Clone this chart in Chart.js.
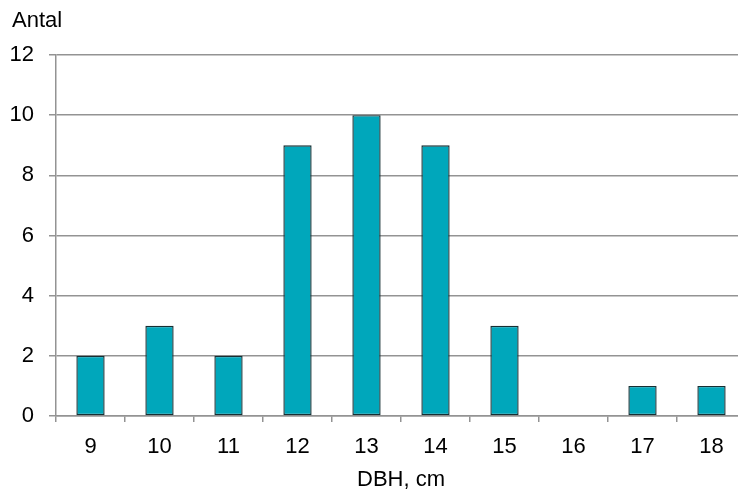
<!DOCTYPE html>
<html>
<head>
<meta charset="utf-8">
<script src="https://cdn.jsdelivr.net/npm/chart.js@4/dist/chart.umd.min.js"></script>
<style>
  html, body { margin: 0; padding: 0; background: #fff; overflow: hidden; }
  #wrap { width: 746px; height: 490px; }
</style>
</head>
<body>
<div id="wrap"><canvas id="c" width="746" height="490"></canvas></div>
<script>
// Diameter classes (DBH, cm) and number of trees in each class
const diameterClasses = ['9', '10', '11', '12', '13', '14', '15', '16', '17', '18'];
const treeCounts = [2, 3, 2, 9, 10, 9, 3, 0, 1, 1];
const yTicks = [0, 2, 4, 6, 8, 10, 12];

const FONT = { family: '"Liberation Sans", Arial, sans-serif', size: 22 };
const GRID = '#939393';

// Writes the y-axis caption above the value scale
const captionPlugin = {
  id: 'caption',
  afterDraw(chart) {
    const ctx = chart.ctx;
    ctx.save();
    ctx.font = `${FONT.size}px ${FONT.family}`;
    ctx.fillStyle = '#000';
    ctx.textAlign = 'left';
    ctx.textBaseline = 'middle';
    ctx.fillText('Antal', 12, 21);
    ctx.restore();
  }
};

new Chart(document.getElementById('c'), {
  type: 'bar',
  data: {
    labels: diameterClasses,
    datasets: [{
      data: treeCounts,
      backgroundColor: '#00A7BB',
      borderColor: '#162f33',
      borderWidth: 1.4,
      borderSkipped: false,
      barPercentage: 0.41,
      categoryPercentage: 1
    }]
  },
  options: {
    responsive: false,
    animation: false,
    layout: { padding: { top: 55, left: 0, right: 0, bottom: 0 } },
    plugins: { legend: { display: false }, tooltip: { enabled: false } },
    scales: {
      x: {
        grid: { display: true, drawOnChartArea: false, drawTicks: true, tickLength: 6, color: GRID, lineWidth: 1.5, offset: true },
        border: { display: true, color: GRID, width: 1.5 },
        ticks: { color: '#000', font: FONT, padding: 12, maxRotation: 0 },
        title: { display: true, text: 'DBH, cm', color: '#000', font: FONT, padding: { top: 0, bottom: -3 } },
        afterFit(scale) { scale.height = 74; }
      },
      y: {
        min: 0,
        max: 12,
        afterBuildTicks(scale) { scale.ticks = yTicks.map(v => ({ value: v })); },
        grid: { color: GRID, lineWidth: 1.5, drawTicks: true, tickLength: 7 },
        border: { display: true, color: GRID, width: 1.5 },
        ticks: { color: '#000', font: FONT, padding: 15 },
        afterFit(scale) { scale.width = 56; }
      }
    }
  },
  plugins: [captionPlugin]
});
</script>
</body>
</html>
